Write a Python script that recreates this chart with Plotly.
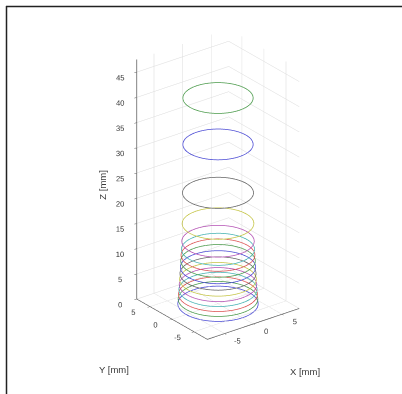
import numpy as np
import plotly.graph_objects as go

# Ring heights (mm), from the bottom ring upwards
z_levels = [0.0, 0.95, 1.9, 2.85, 3.8, 4.85, 6.0, 7.25, 8.5, 9.65, 10.8, 12.4, 15.9, 22.0, 31.6, 40.8]
# Ring radii (mm)
radii = [5.55, 5.5, 5.45, 5.4, 5.35, 5.3, 5.25, 5.2, 5.15, 5.1, 5.05, 5.0, 4.95, 4.9, 4.85, 4.85]
# Classic MATLAB line colour cycle: b g r c m y k
color_cycle = ["#4848d4", "#4a9a4a", "#dc5050", "#44b2b2", "#b450b4", "#c4c444", "#626262"]

x_ticks = [-5, 0, 5]
y_ticks = [-5, 0, 5]
z_ticks = [0, 5, 10, 15, 20, 25, 30, 35, 40, 45]

W, H = 402, 394
theta = np.linspace(0, 2 * np.pi, 181)
font = dict(size=9.5, color="#3a3a3a", family="Liberation Sans, Arial")

fig = go.Figure()
for i, (z, r) in enumerate(zip(z_levels, radii)):
    fig.add_trace(go.Scatter3d(
        x=r * np.cos(theta), y=r * np.sin(theta), z=np.full_like(theta, z),
        mode="lines", line=dict(color=color_cycle[i % len(color_cycle)], width=1.5),
        showlegend=False, hoverinfo="skip"))

axis_style = dict(
    showbackground=False, gridcolor="#dadada", gridwidth=1,
    showline=True, linecolor="#5a5a5a", linewidth=1.5,
    ticks="outside", ticklen=3, tickcolor="#5a5a5a", tickangle=0,
    tickfont=font, title=dict(text=""), zeroline=False, showspikes=False)

az, el = np.radians(37.5), np.radians(26)
zoom = 1.425
z_comp = np.cos(np.radians(24)) / np.cos(el)
fig.update_layout(
    width=W, height=H, margin=dict(l=0, r=0, t=0, b=0),
    paper_bgcolor="white",
    scene=dict(
        domain=dict(x=[34 / W, 1], y=[26 / H, 1]),
        xaxis=dict(range=[-8, 8], tickvals=x_ticks, ticktext=[str(v) for v in x_ticks], **axis_style),
        yaxis=dict(range=[-8, 8], tickvals=y_ticks, ticktext=[str(v) for v in y_ticks], **axis_style),
        zaxis=dict(range=[0, 47.5], tickvals=z_ticks, **axis_style),
        aspectmode="manual",
        aspectratio=dict(x=0.442 * zoom, y=0.442 * zoom, z=1.0 * zoom * z_comp),
        camera=dict(
            projection=dict(type="orthographic"),
            up=dict(x=0, y=0, z=1),
            eye=dict(x=-np.sin(az) * np.cos(el) * 2, y=-np.cos(az) * np.cos(el) * 2, z=np.sin(el) * 2),
        ),
    ),
    annotations=[
        dict(text="Z [mm]", x=101.7 / W, y=1 - 185 / H, textangle=-90),
        dict(text="Y [mm]", x=114 / W, y=1 - 369 / H),
        dict(text="X [mm]", x=305 / W, y=1 - 371 / H),
    ],
    shapes=[
        dict(type="line", xref="paper", yref="paper", x0=6 / W, x1=1.02, y0=1 - 6.5 / H, y1=1 - 6.5 / H,
             line=dict(color="#222222", width=1.5)),
        dict(type="line", xref="paper", yref="paper", x0=6.5 / W, x1=6.5 / W, y0=1 - 6 / H, y1=-0.02,
             line=dict(color="#222222", width=1.5)),
    ],
)
fig.update_annotations(xref="paper", yref="paper", showarrow=False,
                       xanchor="center", yanchor="middle", font=font)

fig.write_html("out.html")
